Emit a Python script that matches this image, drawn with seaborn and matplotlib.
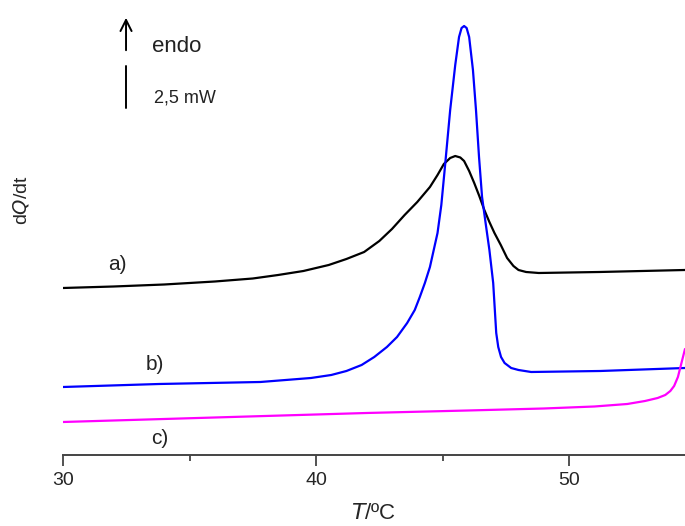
"""
DSC thermograms (dQ/dt vs T) for samples a), b), c).
"""

import numpy as np
import pandas as pd
import matplotlib
matplotlib.use("Agg")
import matplotlib.pyplot as plt
from matplotlib.ticker import MultipleLocator
import seaborn as sns

# curve a) - black
temp_a = [30.0, 32.0, 34.0, 36.0, 37.5, 38.5, 39.5, 40.5, 41.2, 41.9,
          42.5, 43.0, 43.5, 44.0, 44.5, 44.8, 45.05, 45.3, 45.5, 45.7,
          45.85, 46.05, 46.25, 46.45, 46.65, 46.85, 47.05, 47.3, 47.55, 47.8,
          48.0, 48.3, 48.8, 51.2, 54.58]
heat_a = [167, 168.5, 170.5, 173.5, 176.5, 180, 184, 190, 196, 203,
          214, 226, 240, 253, 268, 280, 291, 297, 299, 297.5,
          294, 284, 272, 259, 245, 233, 222, 210, 197, 189,
          185, 183, 182, 183, 185]

# curve b) - blue
temp_b = [30.0, 33.8, 37.8, 39.8, 40.6, 41.2, 41.8, 42.3, 42.8, 43.2,
          43.6, 43.9, 44.1, 44.3, 44.5, 44.65, 44.8, 44.95, 45.1, 45.3,
          45.5, 45.65, 45.75, 45.85, 45.95, 46.05, 46.2, 46.32, 46.44, 46.56,
          46.7, 46.85, 47.0, 47.12, 47.2, 47.31, 47.45, 47.71, 48.0, 48.5,
          51.23, 54.58]
heat_b = [68, 71, 73, 77, 80, 84, 90, 98, 108, 118,
          132, 145, 158, 172, 188, 205, 222, 250, 290, 345,
          390, 418, 427, 429, 427, 418, 385, 345, 298, 258,
          232, 205, 172, 122, 108, 98, 92, 87, 85, 83,
          84, 87]

# curve c) - magenta
temp_c = [30.0, 36.0, 42.0, 46.0, 49.0, 51.0, 52.3, 53.0, 53.5, 53.8,
          54.0, 54.15, 54.3, 54.42, 54.5, 54.58]
heat_c = [33, 37.5, 42, 44.5, 46.5, 48.5, 51, 54, 57, 60,
          64, 69, 78, 90, 98, 106]

curve_names = ["a)", "b)", "c)"]
curve_colors = ["black", "#0000ff", "#ff00ff"]

df = pd.concat([
    pd.DataFrame({"T": temp_a, "dQdt": heat_a, "curve": "a)"}),
    pd.DataFrame({"T": temp_b, "dQdt": heat_b, "curve": "b)"}),
    pd.DataFrame({"T": temp_c, "dQdt": heat_c, "curve": "c)"}),
], ignore_index=True)

sns.set_style("ticks")
plt.rcParams["font.family"] = ["Liberation Sans", "DejaVu Sans"]

fig = plt.figure(figsize=(6.85, 5.26), dpi=100)
ax = fig.add_axes([0.092, 0.135, 0.908, 0.865])

sns.lineplot(data=df, x="T", y="dQdt", hue="curve", hue_order=curve_names,
             palette=dict(zip(curve_names, curve_colors)), sort=False,
             linewidth=1.6, legend=False, ax=ax)

ax.set_xlim(30, 54.58)
ax.set_ylim(0, 455)

# curve labels
label_pos = {"a)": (32.13, 190), "b)": (33.64, 90), "c)": (33.83, 16)}
for name, (lx, ly) in label_pos.items():
    ax.text(lx, ly, name, fontsize=15, ha="center", va="center", color="#222222")

# endo arrow and scale bar
ax.annotate("", xy=(32.49, 440), xytext=(32.49, 402),
            arrowprops=dict(arrowstyle="->", color="black", lw=1.4,
                            mutation_scale=20))
ax.plot([32.49, 32.49], [347, 389], color="black", lw=1.4)
ax.text(33.52, 408, "endo", fontsize=16, va="center", color="#222222")
ax.text(33.6, 357, "2,5 mW", fontsize=13, va="center", color="#222222")

# axes styling
for side in ["left", "top", "right"]:
    ax.spines[side].set_visible(False)
ax.spines["bottom"].set_linewidth(1.4)
ax.spines["bottom"].set_color("#444444")
ax.set_yticks([])
ax.xaxis.set_major_locator(MultipleLocator(10))
ax.xaxis.set_minor_locator(MultipleLocator(5))
ax.tick_params(axis="x", which="major", length=8, width=1.3, color="#444444",
               labelsize=14, pad=4)
ax.tick_params(axis="x", which="minor", length=4, width=1.3, color="#444444")

ax.set_xlabel(r"$\it{T}$/ºC", fontsize=16, labelpad=10)
ax.set_ylabel(r"d$\it{Q}$/dt", fontsize=14)
ax.yaxis.set_label_coords(-0.051, 0.56)

fig.savefig("out.png", dpi=100)
